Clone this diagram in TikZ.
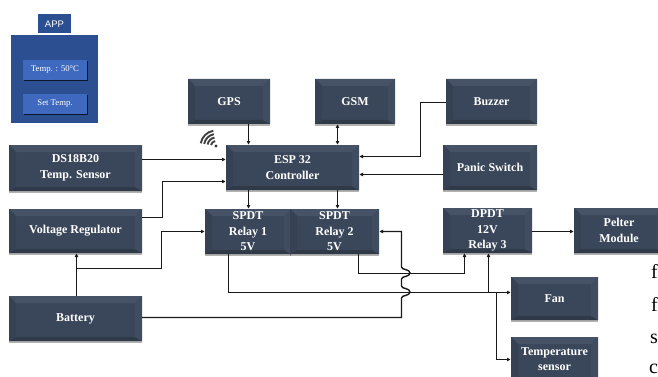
\documentclass[tikz,border=0pt]{standalone}
\usepackage{fontspec}
\setmainfont{Liberation Serif}
\newfontfamily\appsans{Liberation Sans}
\usetikzlibrary{arrows.meta,shadows}
\definecolor{bevmain}{HTML}{3A465A}
\definecolor{bevtop}{HTML}{465265}
\definecolor{bevleft}{HTML}{364153}
\definecolor{bevright}{HTML}{404C60}
\definecolor{bevbot}{HTML}{2F3948}
\definecolor{appblue}{HTML}{2C4F92}
\definecolor{appbtn}{HTML}{3F69BF}
\tikzset{
  bev/.style={draw=none,fill=bevmain,rectangle,inner sep=0pt,align=center,text=white,
    font=\fontsize{12}{15.5}\selectfont\bfseries,
    drop shadow={shadow xshift=0pt,shadow yshift=-1.6pt,opacity=.3,fill=black},
    path picture={
      \fill[bevtop] (path picture bounding box.north west) -- (path picture bounding box.north east)
        -- ([xshift=-7pt,yshift=-7pt]path picture bounding box.north east) -- ([xshift=7pt,yshift=-7pt]path picture bounding box.north west) -- cycle;
      \fill[bevbot] (path picture bounding box.south west) -- (path picture bounding box.south east)
        -- ([xshift=-7pt,yshift=4pt]path picture bounding box.south east) -- ([xshift=7pt,yshift=4pt]path picture bounding box.south west) -- cycle;
      \fill[bevleft] (path picture bounding box.north west) -- ([xshift=7pt,yshift=-7pt]path picture bounding box.north west)
        -- ([xshift=7pt,yshift=4pt]path picture bounding box.south west) -- (path picture bounding box.south west) -- cycle;
      \fill[bevright] (path picture bounding box.north east) -- ([xshift=-7pt,yshift=-7pt]path picture bounding box.north east)
        -- ([xshift=-7pt,yshift=4pt]path picture bounding box.south east) -- (path picture bounding box.south east) -- cycle;
    }},
  conn/.style={draw=black!90,line width=1.4pt,-{Latex[length=3.8pt,width=4pt]}},
  both/.style={draw=black!90,line width=1.4pt,{Latex[length=3.8pt,width=4pt]}-{Latex[length=3.8pt,width=4pt]}},
  panel/.style={rectangle,inner sep=0pt,fill=appblue,draw=white,line width=1.4pt,
    drop shadow={shadow xshift=0.6pt,shadow yshift=-0.6pt,opacity=.3,fill=black}},
  appbutton/.style={rectangle,inner sep=0pt,fill=appbtn,text=white,
    font=\fontsize{8.7}{9}\selectfont,
    drop shadow={shadow xshift=1pt,shadow yshift=-1pt,opacity=.7,fill=black}},
  stray/.style={inner sep=0pt,anchor=base west,font=\fontsize{20}{20}\selectfont}
}
\newcommand{\bevbox}[6]{%
  \node[bev,minimum width={(#4-#2)*1pt},minimum height={(#5-#3)*1pt}] (#1) at ({(#2+#4)/2},{(#3+#5)/2}) {#6};}
\begin{document}
\begin{tikzpicture}[x=1pt,y=-1pt]
\useasboundingbox (0,0) rectangle (658,377);
\clip (0,0) rectangle (658,377);
\fill[white] (0,0) rectangle (658,377);
% stray text at the right edge
\node[stray] (s1) at (651,278) {f};
\node[stray] (s2) at (651,311) {f};
\node[stray] (s3) at (650,343) {s};
\node[stray] (s4) at (649,373) {c};
% app panel
\node[panel,minimum width=34pt,minimum height=21pt,text=white,font=\appsans\fontsize{9.5}{10}\selectfont] (apptab) at (54.5,24) {APP};
\node[panel,minimum width=89pt,minimum height=90pt] (apppanel) at (54.5,79) {};
\node[appbutton,minimum width=64pt,minimum height=20pt] (btna) at (55,70) {Temp. : 50°C};
\node[appbutton,minimum width=64pt,minimum height=20pt] (btnb) at (55,104) {Set Temp.};
% blocks
\bevbox{gps}{188}{79}{270}{124}{GPS}
\bevbox{gsm}{315}{79}{395}{124}{GSM}
\bevbox{buz}{446}{79}{537}{124}{Buzzer}
\bevbox{esp}{226}{145}{359}{190}{ESP 32\\Controller}
\bevbox{pan}{443}{145}{537}{190}{Panic Switch}
\bevbox{ds}{9}{145}{142}{191}{DS18B20\\Temp. Sensor}
\bevbox{vr}{9}{209}{142}{253}{Voltage Regulator}
\bevbox{bat}{9}{296}{142}{341}{Battery}
\bevbox{ra}{205}{209}{291}{254}{SPDT\\Relay 1\\5V}
\bevbox{rb}{290}{209}{379}{254}{SPDT\\Relay 2\\5V}
\bevbox{rc}{443}{208}{532}{253}{DPDT\\12V\\Relay 3}
\bevbox{pel}{574}{208}{664}{253}{Pelter\\Module}
\bevbox{fan}{511}{277}{598}{320}{Fan}
\bevbox{tmp}{511}{337}{598}{381}{Temperature\\sensor}
% wifi
\coordinate (wf) at (216,146);
\fill[black!80] (wf) circle (1.7pt);
\foreach \r in {5,8.5,12,15.5}
  \draw[black!75,line width=1.9pt] (wf) ++(-100:\r) arc[start angle=-100,end angle=-170,radius=\r];
% connectors
\draw[conn] (gps.south -| 248.5,0) -- (esp.north -| 248.5,0);
\draw[both] (gsm.south -| 337.5,0) -- (esp.north -| 337.5,0);
\draw[conn] (buz.west |- 0,102.5) -- (420.5,102.5) -- (420.5,156.5) -- (esp.east |- 0,156.5);
\draw[conn] (pan.west |- 0,174.5) -- (esp.east |- 0,174.5);
\draw[conn] (ds.east |- 0,159.5) -- (esp.west |- 0,159.5);
\draw[conn] (vr.east |- 0,217.5) -- (162.5,217.5) -- (162.5,181.5) -- (esp.west |- 0,181.5);
\draw[conn] (esp.south -| 248.5,0) -- (ra.north -| 248.5,0);
\draw[conn] (esp.south -| 337.5,0) -- (rb.north -| 337.5,0);
\draw[conn] (bat.north -| 76.5,0) -- (vr.south -| 76.5,0);
\draw[conn] (76.5,268.5) -- (161.5,268.5) -- (161.5,231.5) -- (ra.west |- 0,231.5);
\draw[conn] (bat.east |- 0,317.5) -- (401.5,317.5) -- (401.5,298)
  .. controls (401.5,295) and (410,296) .. (410,292)
  .. controls (410,288) and (401.5,289) .. (401.5,286)
  -- (401.5,279)
  .. controls (401.5,276) and (410,277) .. (410,273)
  .. controls (410,269) and (401.5,270) .. (401.5,267)
  -- (401.5,231.5) -- (rb.east |- 0,231.5);
\draw[conn] (rb.south -| 358.5,0) -- (358.5,273.5) -- (464.5,273.5) -- (rc.south -| 464.5,0);
\draw[conn] (ra.south -| 228.5,0) -- (228.5,292.5) -- (fan.west |- 0,292.5);
\draw[conn] (488.5,292.5) -- (rc.south -| 488.5,0);
\draw[conn] (496.5,292.5) -- (496.5,359.5) -- (tmp.west |- 0,359.5);
\draw[conn] (rc.east |- 0,231.5) -- (pel.west |- 0,231.5);
\end{tikzpicture}
\end{document}
